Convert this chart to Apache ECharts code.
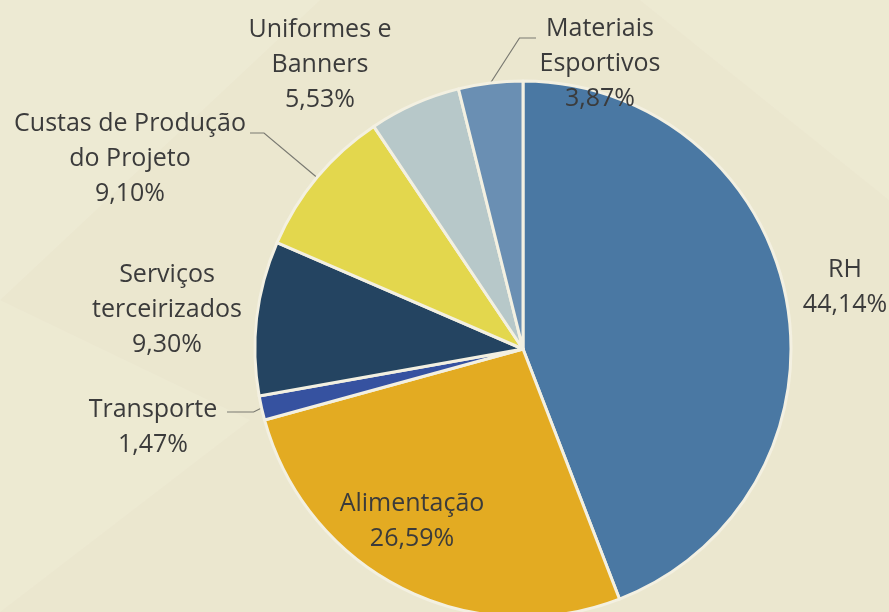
<!DOCTYPE html>
<html><head><meta charset="utf-8">
<script src="https://cdn.jsdelivr.net/npm/echarts@6/dist/echarts.min.js"></script>
<style>html,body{margin:0;padding:0;background:#ebe7cf;}#c{width:889px;height:612px;}</style>
</head><body><div id="c"></div>
<script>
var categories = ['RH', 'Alimentação', 'Transporte', 'Serviços\nterceirizados', 'Custas de Produção\ndo Projeto', 'Uniformes e\nBanners', 'Materiais\nEsportivos'];
var values = [44.14, 26.59, 1.47, 9.30, 9.10, 5.53, 3.87];
var valueLabels = ['44,14%', '26,59%', '1,47%', '9,30%', '9,10%', '5,53%', '3,87%'];
var colors = ['#4a78a3', '#e3ab22', '#3652a0', '#244461', '#e3d74d', '#b7c8c9', '#6a8fb3'];

// label placement (style/layout only)
var labelPos = [
  {x: 845, y: 287},
  {x: 412, y: 521},
  {x: 153, y: 427, line: true},
  {x: 167, y: 310},
  {x: 130, y: 159, line: true},
  {x: 320, y: 65},
  {x: 600, y: 64, line: true}
];

var chart = echarts.init(document.getElementById('c'), null, {renderer: 'canvas'});
var data = categories.map(function (c, i) {
  return {
    name: c, value: values[i],
    itemStyle: {color: colors[i]},
    labelLine: {show: !!labelPos[i].line}
  };
});
chart.setOption({
  backgroundColor: '#ebe7cf',
  graphic: [
    {type: 'polygon', z: -1, shape: {points: [[0,0],[320,0],[0,300]]}, style: {fill: 'rgba(255,255,245,0.12)'}},
    {type: 'polygon', z: -1, shape: {points: [[0,300],[250,420],[0,612]]}, style: {fill: 'rgba(255,255,240,0.12)'}},
    {type: 'polygon', z: -1, shape: {points: [[640,0],[889,0],[889,200]]}, style: {fill: 'rgba(255,255,240,0.12)'}}
  ],
  series: [{
    type: 'pie',
    center: [523, 349],
    radius: 268,
    startAngle: 90,
    clockwise: true,
    avoidLabelOverlap: false,
    data: data,
    itemStyle: {borderColor: '#f3f0e1', borderWidth: 3},
    label: {
      show: true,
      position: 'outside',
      formatter: function (p) { return p.name + '\n' + valueLabels[p.dataIndex]; },
      fontFamily: 'Open Sans',
      fontSize: 25,
      lineHeight: 35,
      color: '#3b3b3b',
      align: 'center'
    },
    labelLine: {
      length: 20, length2: 20,
      lineStyle: {color: '#7a7a72', width: 1.2}
    },
    labelLayout: function (params) {
      var i = params.dataIndex;
      var p = labelPos[i];
      var res = {x: p.x, y: p.y, align: 'center', verticalAlign: 'middle'};
      if (p.line && params.labelLinePoints) {
        var a = params.labelLinePoints[0];
        if (i === 6) {
          res.labelLinePoints = [a, [a[0] + 29, 38], [536, 38]];
        } else if (i === 4) {
          res.labelLinePoints = [a, [264, 133], [250, 133]];
        } else if (i === 2) {
          res.labelLinePoints = [a, [a[0] - 8, 412], [227, 412]];
        }
      }
      return res;
    }
  }]
});
</script></body></html>
